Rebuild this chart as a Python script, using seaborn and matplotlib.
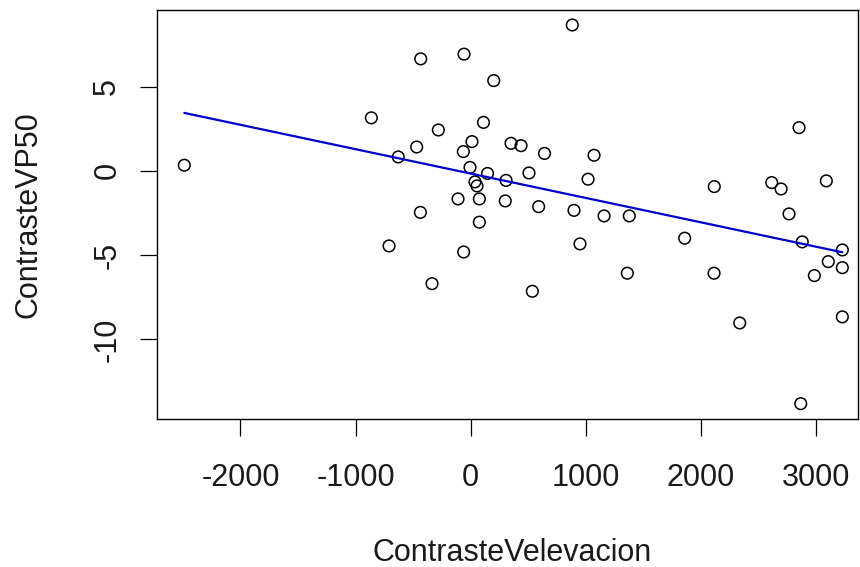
import numpy as np
import pandas as pd
import seaborn as sns
import matplotlib.pyplot as plt

# values
contraste_elev = [-2487, -434, -58, 200, -863, -281, 111, 11, -64, 350,
                  437, -469, -629, -6, 146, 37, 55, 307, -110, 75,
                  300, -437, 75, -709, -61, -336, 882, 2851, 641, 1071,
                  506, 1019, 2115, 2614, 2695, 3088, 590, 897, 1158, 1377,
                  2764, 949, 1858, 2879, 3227, 3105, 3227, 2984, 535, 1360,
                  2113, 2336, 3227, 2866]
contraste_vp50 = [0.34, 6.65, 6.93, 5.36, 3.15, 2.43, 2.88, 1.74, 1.15, 1.64,
                  1.50, 1.42, 0.83, 0.21, -0.15, -0.65, -0.89, -0.56, -1.66, -1.66,
                  -1.78, -2.46, -3.04, -4.45, -4.81, -6.69, 8.66, 2.57, 1.04, 0.93,
                  -0.12, -0.49, -0.93, -0.69, -1.07, -0.59, -2.12, -2.34, -2.67, -2.67,
                  -2.55, -4.33, -3.99, -4.21, -4.69, -5.38, -5.74, -6.21, -7.14, -6.07,
                  -6.07, -9.02, -8.66, -13.81]
x_ticks = [-2000, -1000, 0, 1000, 2000, 3000]
y_ticks = [-10, -5, 0, 5]

df = pd.DataFrame({"ContrasteVelevacion": contraste_elev,
                   "ContrasteVP50": contraste_vp50})

sns.set_theme(style="ticks")
plt.rcParams["font.family"] = ["Liberation Sans", "DejaVu Sans"]
plt.rcParams["axes.unicode_minus"] = False  # R draws a plain hyphen

fig = plt.figure(figsize=(8.6, 5.67), dpi=100)
ax = fig.add_axes([157 / 860, 1 - 419 / 567, 701 / 860, 409 / 567])

sns.scatterplot(data=df, x="ContrasteVelevacion", y="ContrasteVP50", ax=ax,
                s=70, facecolors="none", edgecolor="black", linewidth=1.1)
sns.regplot(data=df, x="ContrasteVelevacion", y="ContrasteVP50", ax=ax,
            scatter=False, ci=None, truncate=True,
            line_kws=dict(color="#0000cc", lw=1.6))

ax.set_xlim(-2724, 3363)
ax.set_ylim(-14.72, 9.55)
ax.set_xticks(x_ticks)
ax.set_yticks(y_ticks)
ax.set_xlabel("")
ax.set_ylabel("")

for s in ax.spines.values():
    s.set_visible(True)
    s.set_color("black")
    s.set_linewidth(1.0)

ax.tick_params(axis="both", colors="black", length=12.5, width=0.9,
               labelsize=22, labelcolor="#1a1a1a")
ax.tick_params(axis="x", pad=19)
ax.tick_params(axis="y", pad=12.5, labelrotation=90)
plt.setp(ax.get_yticklabels(), va="center")

fig.text(512 / 860, 1 - 561 / 567, "ContrasteVelevacion", fontsize=22,
         ha="center", va="baseline", color="#1a1a1a")
fig.text(37 / 860, 1 - 214.5 / 567, "ContrasteVP50", fontsize=22,
         rotation=90, rotation_mode="anchor", ha="center", va="baseline",
         color="#1a1a1a")

plt.savefig("out.png", dpi=100)
